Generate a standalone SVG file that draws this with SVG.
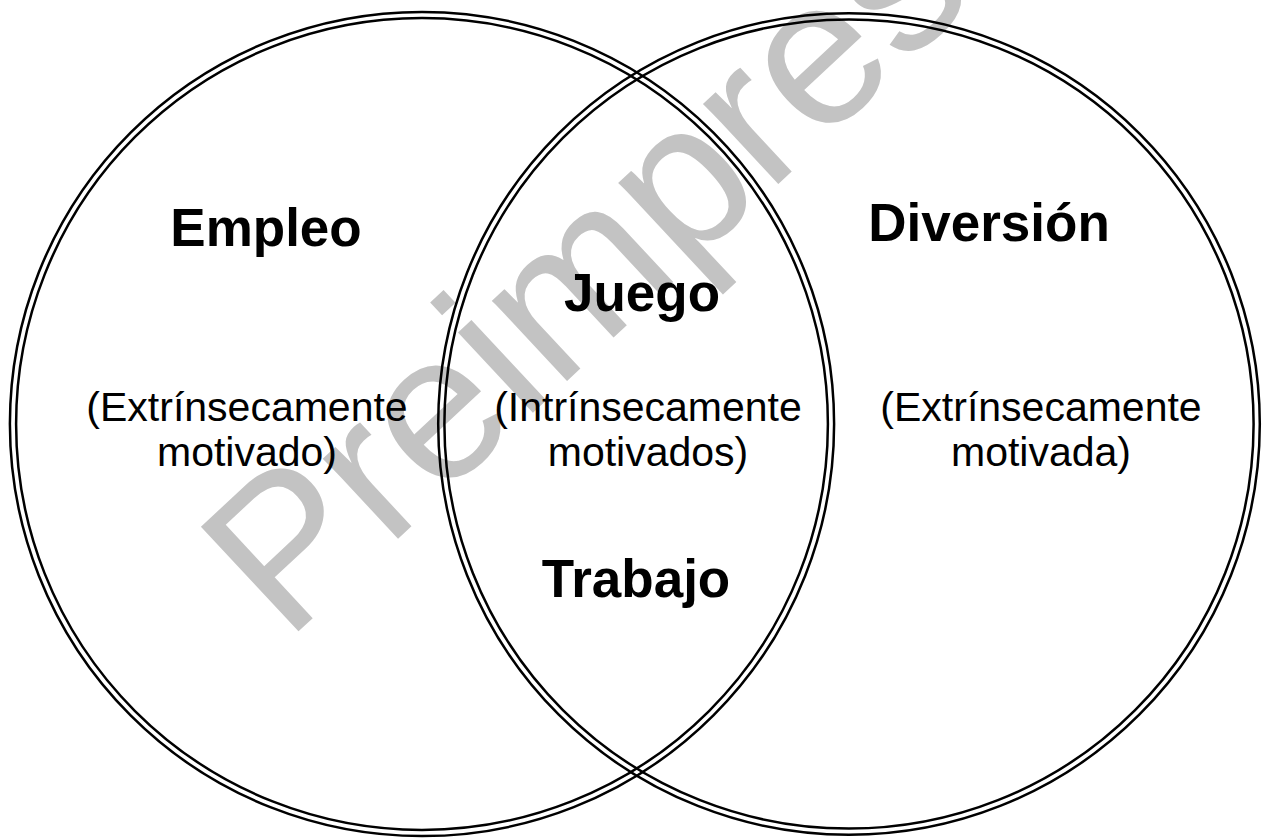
<svg xmlns="http://www.w3.org/2000/svg" width="1267" height="838" viewBox="0 0 1267 838">
<style>
.ring{fill:none;stroke:#000;stroke-width:2.5}
.bold{font-family:"Liberation Sans",Arial,sans-serif;font-weight:bold;font-size:53px;fill:#000;text-anchor:middle}
.reg{font-family:"Liberation Sans",Arial,sans-serif;font-size:41px;fill:#000;text-anchor:middle}
.wm{font-family:"Liberation Sans",Arial,sans-serif;font-size:208px;fill:#c3c3c3}
</style>
<rect x="0" y="0" width="1267" height="838" fill="#fff"/>
<g id="watermark">
<text class="wm" transform="translate(286,643) rotate(-43)" x="0" y="0">Preimpresión</text>
</g>
<g id="connectors"></g>
<g id="empleo">
<circle class="ring" cx="422" cy="424" r="412.1"/>
<circle class="ring" cx="422" cy="424" r="405.9"/>
<text class="bold" x="266" y="246">Empleo</text>
<text class="reg" x="247" y="421">(Extrínsecamente</text>
<text class="reg" x="247" y="466">motivado)</text>
</g>
<g id="diversion">
<circle class="ring" cx="849" cy="424" r="410.8"/>
<circle class="ring" cx="849" cy="424" r="404.6"/>
<text class="bold" x="989" y="241">Diversión</text>
<text class="reg" x="1041" y="421">(Extrínsecamente</text>
<text class="reg" x="1041" y="466">motivada)</text>
</g>
<g id="interseccion">
<text class="bold" x="642" y="311">Juego</text>
<text class="reg" x="648" y="421">(Intrínsecamente</text>
<text class="reg" x="648" y="466">motivados)</text>
<text class="bold" x="636" y="597">Trabajo</text>
</g>
</svg>
